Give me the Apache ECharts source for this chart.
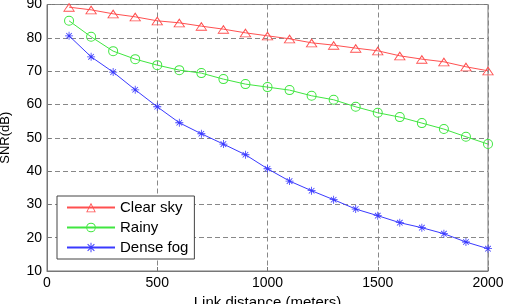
<!DOCTYPE html>
<html>
<head>
<meta charset="utf-8">
<script src="https://cdn.jsdelivr.net/npm/echarts@6/dist/echarts.min.js"></script>
<style>
  html, body { margin: 0; padding: 0; background: #fff; }
  #chart { width: 505px; height: 304px; }
</style>
</head>
<body>
<div id="chart"></div>
<script>
  // link distance in meters
  const distances = [100, 200, 300, 400, 500, 600, 700, 800, 900, 1000,
    1100, 1200, 1300, 1400, 1500, 1600, 1700, 1800, 1900, 2000]
  // SNR (dB)
  const clearSky = [89.2, 88.4, 87.2, 86.3, 85.1, 84.5, 83.5, 82.6, 81.5, 80.6,
    79.7, 78.5, 77.8, 76.9, 76.1, 74.6, 73.6, 72.8, 71.3, 70.1]
  const rainy = [85.1, 80.3, 76.0, 73.6, 71.8, 70.3, 69.4, 67.6, 66.1, 65.2,
    64.3, 62.6, 61.4, 59.3, 57.5, 56.2, 54.4, 52.6, 50.3, 48.1]
  const denseFog = [80.6, 74.3, 69.7, 64.4, 59.3, 54.5, 51.2, 48.1, 44.9, 40.7,
    37.0, 34.1, 31.4, 28.6, 26.6, 24.5, 23.0, 21.2, 18.7, 16.7]
  const seriesNames = ['Clear sky', 'Rainy', 'Dense fog']

  // matlab-like markers: thin outlines drawn as filled rings
  const triangle = 'path://M10,0L20,20L0,20Z M10,4.5L2.6,18.2L17.4,18.2Z'
  const circle = 'path://M10,0A10,10 0 1,1 10,20A10,10 0 1,1 10,0Z ' +
    'M10,2A8,8 0 1,0 10,18A8,8 0 1,0 10,2Z'
  const asterisk = 'path://M0,9L20,9L20,11L0,11Z M9,0L11,0L11,20L9,20Z ' +
    'M2.3,3.7L3.7,2.3L17.7,16.3L16.3,17.7Z M16.3,2.3L17.7,3.7L3.7,17.7L2.3,16.3Z'

  const font = 'Liberation Sans'
  const pair = (ys) => ys.map((y, i) => [distances[i], y])

  const chart = echarts.init(document.getElementById('chart'))
  chart.setOption({
    animation: false,
    backgroundColor: '#fff',
    textStyle: {fontFamily: font},
    grid: {
      left: 47, right: 17, top: 4.5, bottom: 33,
      outerBoundsMode: 'none', containLabel: false,
      show: true, borderColor: '#777', borderWidth: 1
    },
    legend: {
      orient: 'vertical',
      left: 57, top: 196,
      padding: [4, 6, 4, 9],
      itemWidth: 48, itemHeight: 12, itemGap: 5,
      backgroundColor: '#fff',
      borderColor: '#444', borderWidth: 1, borderRadius: 0,
      textStyle: {fontSize: 15, color: '#000', fontFamily: font},
      data: seriesNames
    },
    xAxis: {
      type: 'value', min: 0, max: 2000, interval: 500,
      name: 'Link distance (meters)', nameLocation: 'middle', nameGap: 16,
      nameTextStyle: {fontSize: 15, color: '#000'},
      axisLine: {lineStyle: {color: '#777'}},
      axisTick: {inside: true, length: 4, lineStyle: {color: '#777'}},
      axisLabel: {fontSize: 14, color: '#000', margin: 5, formatter: (v) => String(v)},
      splitLine: {lineStyle: {color: '#888', type: [5, 3]}}
    },
    yAxis: {
      type: 'value', min: 10, max: 90, interval: 10,
      name: 'SNR(dB)', nameLocation: 'middle', nameGap: 35, nameRotate: 90,
      nameTextStyle: {fontSize: 13, color: '#000'},
      axisLine: {show: true, lineStyle: {color: '#777'}},
      axisTick: {show: true, inside: true, length: 4, lineStyle: {color: '#777'}},
      axisLabel: {fontSize: 14, color: '#000', margin: 5},
      splitLine: {lineStyle: {color: '#888', type: [5, 3]}}
    },
    series: [
      {
        name: seriesNames[0], type: 'line', data: pair(clearSky),
        symbol: triangle, symbolSize: [12, 9],
        lineStyle: {color: '#ff5050', width: 1},
        itemStyle: {color: '#ff5050'}
      },
      {
        name: seriesNames[1], type: 'line', data: pair(rainy),
        symbol: circle, symbolSize: 10,
        lineStyle: {color: '#40e640', width: 1},
        itemStyle: {color: '#40e640'}
      },
      {
        name: seriesNames[2], type: 'line', data: pair(denseFog),
        symbol: asterisk, symbolSize: 8,
        lineStyle: {color: '#3a3aff', width: 1},
        itemStyle: {color: '#3a3aff'}
      }
    ]
  })
</script>
</body>
</html>
